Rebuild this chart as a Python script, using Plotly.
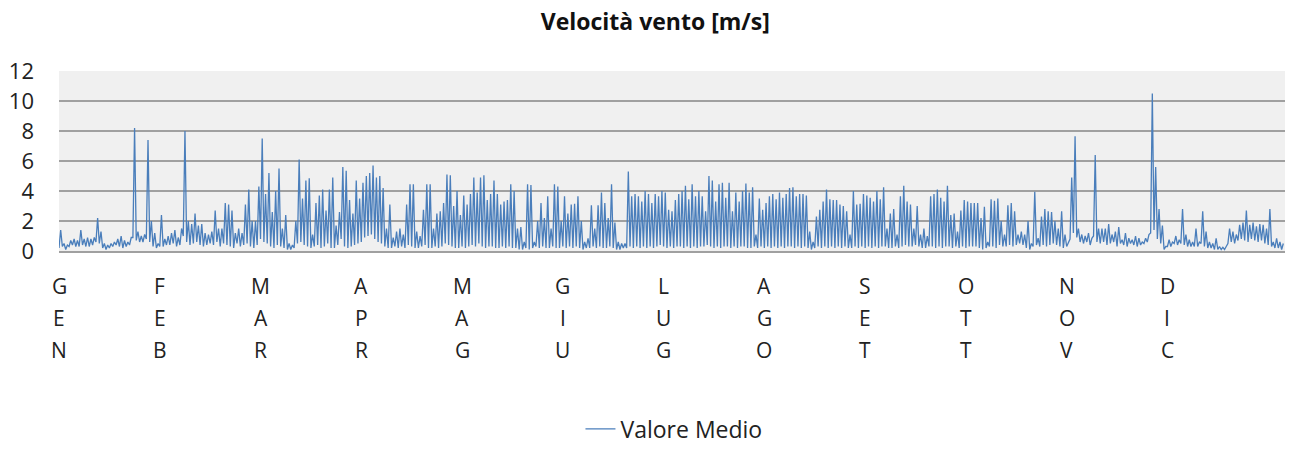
import plotly.graph_objects as go

# velocita' media del vento: massimo e minimo di ogni giorno (m/s)
picco = [
    # gen
    1.4, 0.5, 0.4, 0.7, 0.8, 0.7, 1.4, 0.8, 0.9, 0.8, 0.9, 2.2, 1.3, 0.5, 0.4, 0.5,
    0.6, 0.8, 1.0, 0.7, 0.6, 0.9, 8.2, 1.3, 1.0, 1.1, 7.4, 2.0, 1.2, 0.5, 2.4,
    # feb
    0.8, 1.0, 1.2, 1.4, 0.9, 1.5, 8.0, 2.0, 1.8, 2.5, 1.7, 1.8, 1.2, 1.1, 1.3, 2.7,
    1.5, 1.5, 3.2, 3.1, 2.7, 1.2, 1.5, 1.2, 3.1, 4.1, 2.0, 2.0,
    # mar
    4.3, 7.5, 3.8, 5.2, 2.6, 4.0, 5.5, 1.5, 2.4, 0.5, 0.4, 2.0, 6.1, 3.5, 4.7, 4.85,
    1.1, 3.2, 3.7, 4.1, 2.7, 4.1, 4.9, 1.7, 2.6, 5.6, 5.35, 3.4, 2.5, 4.7, 3.5,
    # apr
    4.55, 5.0, 5.2, 5.7, 4.9, 5.0, 4.2, 1.5, 3.1, 0.9, 1.3, 1.5, 1.1, 3.1, 4.45, 4.45,
    1.3, 1.0, 2.75, 4.45, 4.45, 1.5, 2.5, 2.65, 3.2, 5.1, 5.05, 3.0, 4.0, 2.4,
    # mag
    3.7, 3.1, 3.8, 4.9, 3.9, 4.9, 5.05, 3.4, 3.8, 4.7, 3.8, 3.1, 3.3, 3.4, 4.45, 4.0,
    1.5, 1.6, 0.6, 4.45, 4.4, 0.6, 2.0, 3.2, 2.2, 3.65, 1.5, 4.45, 4.3, 2.0, 3.65,
    # giu
    2.5, 3.1, 3.15, 3.65, 2.0, 0.6, 0.85, 3.05, 1.5, 3.05, 3.9, 3.2, 2.2, 4.45, 1.9, 0.6,
    0.5, 0.5, 5.3, 3.65, 3.8, 3.65, 3.3, 4.0, 3.8, 3.2, 3.8, 3.65, 4.0, 3.9,
    # lug
    2.75, 2.65, 3.4, 3.8, 4.0, 4.35, 3.45, 4.45, 3.65, 4.0, 3.65, 2.65, 5.0, 4.7, 3.3, 4.45,
    4.55, 3.55, 4.55, 2.65, 3.9, 3.3, 4.0, 4.5, 3.9, 4.25, 1.1, 3.5, 2.75, 3.2, 3.65,
    # ago
    3.8, 3.45, 3.9, 3.55, 3.8, 4.2, 4.25, 3.65, 3.8, 3.8, 3.7, 1.3, 0.6, 2.3, 2.75, 3.3,
    4.1, 3.45, 3.4, 3.4, 3.1, 3.0, 2.65, 1.1, 4.0, 3.1, 3.15, 3.8, 3.7, 3.55, 3.3,
    # set
    4.0, 3.45, 4.25, 1.5, 2.5, 2.8, 1.1, 3.65, 4.35, 3.3, 3.1, 1.5, 3.0, 1.1, 1.5, 1.0,
    3.65, 3.8, 4.1, 3.55, 3.3, 4.35, 2.4, 2.5, 1.3, 2.7, 3.4, 3.3, 3.2, 3.2,
    # ott
    3.2, 2.2, 2.95, 0.6, 3.45, 3.35, 3.5, 2.0, 1.1, 3.05, 3.2, 2.65, 1.1, 1.3, 1.1, 2.0,
    0.5, 3.95, 0.85, 2.3, 2.8, 2.65, 2.6, 2.0, 1.5, 2.65, 1.1, 0.6, 4.9, 7.65, 1.5,
    # nov
    1.1, 1.0, 1.2, 0.85, 6.4, 1.5, 1.5, 1.5, 1.8, 1.1, 1.3, 1.6, 0.75, 1.2, 0.85, 0.75,
    1.0, 0.85, 0.6, 0.85, 1.1, 10.5, 5.6, 2.8, 1.7, 0.3, 0.75, 0.6, 1.0, 0.75,
    # dic
    2.8, 1.1, 0.75, 0.6, 1.5, 0.6, 2.65, 1.3, 0.6, 0.5, 0.85, 0.3, 0.25, 0.3, 1.5, 1.3,
    1.1, 1.75, 1.9, 2.7, 1.75, 1.9, 1.65, 1.8, 1.75, 1.5, 2.8, 0.6, 0.85, 0.6, 0.5,
]

minimo = [
    # gen
    0.2, 0.3, 0.1, 0.3, 0.4, 0.3, 0.3, 0.4, 0.3, 0.3, 0.4, 0.6, 0.5, 0.2, 0.1, 0.2,
    0.3, 0.4, 0.3, 0.2, 0.3, 0.4, 0.9, 0.7, 0.6, 0.6, 0.8, 0.6, 0.3, 0.2, 0.3,
    # feb
    0.3, 0.4, 0.4, 0.5, 0.3, 0.4, 1.0, 0.6, 0.4, 0.5, 0.6, 0.4, 0.3, 0.4, 0.5, 0.4,
    0.6, 0.3, 0.5, 0.4, 0.3, 0.2, 0.5, 0.3, 0.4, 0.5, 0.3, 0.2,
    # mar
    0.4, 0.8, 0.6, 0.5, 0.3, 0.2, 0.4, 0.3, 0.2, 0.1, 0.1, 0.2, 0.5, 0.6, 0.4, 0.3,
    0.2, 0.3, 0.4, 0.2, 0.3, 0.5, 0.2, 0.2, 0.4, 0.8, 0.3, 0.2, 0.3, 0.4, 0.5,
    # apr
    0.6, 0.9, 1.0, 1.1, 0.8, 0.6, 0.5, 0.3, 0.2, 0.2, 0.3, 0.2, 0.3, 0.2, 0.4, 0.3,
    0.2, 0.2, 0.3, 0.4, 0.2, 0.2, 0.3, 0.2, 0.3, 0.5, 0.4, 0.3, 0.2, 0.2,
    # mag
    0.3, 0.2, 0.3, 0.4, 0.3, 0.5, 0.3, 0.2, 0.3, 0.3, 0.2, 0.2, 0.3, 0.2, 0.3, 0.2,
    0.2, 0.1, 0.1, 0.2, 0.1, 0.2, 0.3, 0.2, 0.3, 0.2, 0.2, 0.3, 0.2, 0.2, 0.3,
    # giu
    0.2, 0.3, 0.2, 0.3, 0.2, 0.1, 0.2, 0.2, 0.3, 0.2, 0.3, 0.2, 0.2, 0.3, 0.2, 0.1,
    0.1, 0.2, 0.2, 0.3, 0.2, 0.3, 0.2, 0.3, 0.2, 0.3, 0.2, 0.3, 0.4, 0.3,
    # lug
    0.2, 0.3, 0.2, 0.3, 0.3, 0.2, 0.3, 0.2, 0.3, 0.2, 0.3, 0.3, 0.4, 0.3, 0.2, 0.3,
    0.2, 0.3, 0.3, 0.2, 0.3, 0.2, 0.3, 0.3, 0.2, 0.2, 0.3, 0.2, 0.3, 0.2, 0.3,
    # ago
    0.2, 0.3, 0.2, 0.3, 0.2, 0.3, 0.3, 0.2, 0.3, 0.2, 0.3, 0.2, 0.1, 0.2, 0.3, 0.2,
    0.3, 0.2, 0.3, 0.2, 0.3, 0.2, 0.3, 0.2, 0.2, 0.3, 0.2, 0.3, 0.2, 0.3, 0.2,
    # set
    0.3, 0.2, 0.3, 0.3, 0.2, 0.2, 0.3, 0.2, 0.3, 0.4, 0.3, 0.3, 0.4, 0.3, 0.2, 0.2,
    0.3, 0.3, 0.2, 0.3, 0.2, 0.3, 0.3, 0.2, 0.3, 0.2, 0.3, 0.2, 0.3, 0.3,
    # ott
    0.3, 0.2, 0.1, 0.2, 0.3, 0.3, 0.2, 0.4, 0.3, 0.3, 0.4, 0.3, 0.4, 0.5, 0.4, 0.2,
    0.1, 0.3, 0.4, 0.3, 0.4, 0.3, 0.4, 0.5, 0.4, 0.3, 0.2, 0.3, 0.8, 1.2, 0.9,
    # nov
    0.6, 0.5, 0.6, 0.4, 1.0, 0.6, 0.5, 0.6, 0.4, 0.5, 0.6, 0.3, 0.5, 0.4, 0.3, 0.5,
    0.4, 0.3, 0.4, 0.5, 0.6, 1.2, 1.4, 0.8, 0.5, 0.1, 0.3, 0.3, 0.5, 0.4,
    # dic
    0.5, 0.4, 0.3, 0.3, 0.3, 0.3, 0.5, 0.3, 0.2, 0.2, 0.1, 0.1, 0.1, 0.1, 0.5, 0.6,
    0.5, 0.7, 0.8, 0.7, 0.6, 0.8, 0.7, 0.6, 0.7, 0.5, 0.4, 0.3, 0.2, 0.2, 0.1,
]

mesi = ["GEN", "FEB", "MAR", "APR", "MAG", "GIU", "LUG", "AGO", "SET", "OTT", "NOV", "DIC"]
giorni_etichette = [0, 30, 60, 90, 120, 150, 180, 210, 240, 270, 300, 330]

# una serie continua: minimo e massimo alternati per ogni giorno
x = []
y = []
for g in range(len(picco)):
    x.append(g)
    y.append(minimo[g])
    x.append(g + 0.5)
    y.append(picco[g])

fig = go.Figure()
fig.add_trace(go.Scatter(x=x, y=y, mode="lines", name="Valore Medio",
                         line=dict(color="#4a7ebb", width=1.3)))

# etichette dei mesi scritte in verticale, una lettera per riga
for g, mese in zip(giorni_etichette, mesi):
    for i, lettera in enumerate(mese):
        fig.add_annotation(x=g, y=0, xref="x", yref="paper", text=lettera,
                           showarrow=False, xanchor="center", yanchor="middle",
                           yshift=-35 - 32 * i,
                           font=dict(family="Open Sans", size=21, color="#222222"))

fig.update_xaxes(range=[0, 365], showticklabels=False, showgrid=False, zeroline=False,
                 showline=True, linecolor="#a0a0a0", linewidth=1.5, ticks="",
                 automargin=False)
fig.update_yaxes(range=[0, 12], dtick=2, showgrid=True, gridcolor="#a0a0a0", gridwidth=1.5,
                 zeroline=False, showline=False, ticks="", ticklabelstandoff=24,
                 automargin=False,
                 tickfont=dict(family="Open Sans", size=22, color="#222222"))

fig.update_layout(
    width=1290, height=452, autosize=False,
    margin=dict(l=59, r=5, t=71, b=201, autoexpand=False),
    plot_bgcolor="#f0f0f0", paper_bgcolor="white",
    title=dict(text="<b>Velocità vento [m/s]</b>", x=0.508, xanchor="center",
               y=1 - 22 / 452, yanchor="middle", yref="container",
               font=dict(family="Open Sans", size=23, color="#111111")),
    showlegend=True,
    legend=dict(orientation="h", x=0.5016, xanchor="center", y=-1.108, yanchor="bottom",
                font=dict(family="Open Sans", size=23, color="#222222")),
)

# la pagina ha un margine di 8px di default: lo tolgo
fig.write_html("out.html", config={"displayModeBar": False},
               post_script="document.body.style.margin='0';")
